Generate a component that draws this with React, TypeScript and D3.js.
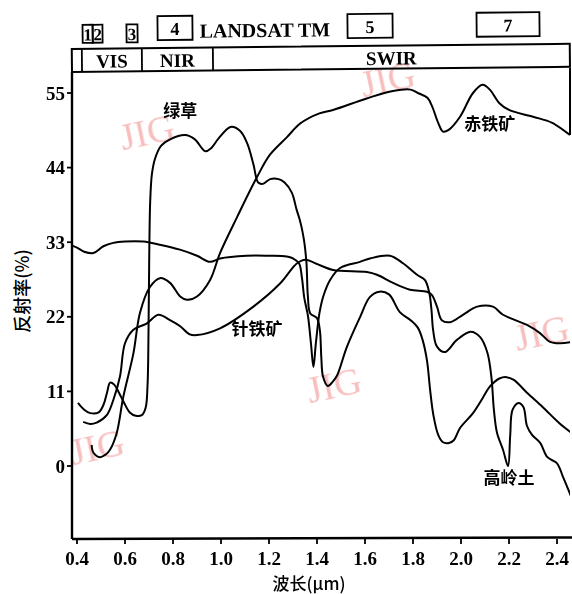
import React from "react";
import * as d3 from "d3";

// ---------- data (wavelength µm, reflectance %) ----------
const grass: [number, number][] = [
  [0.404, 9.3], [0.43, 8.3], [0.455, 7.8], [0.49, 7.9], [0.51, 9.0], [0.525, 10.8], [0.538, 12.3],
  [0.555, 12.0], [0.575, 10.8], [0.595, 9.4], [0.62, 7.9], [0.645, 7.4], [0.67, 7.5], [0.686, 8.6],
  [0.694, 12], [0.698, 20], [0.701, 31], [0.705, 39], [0.712, 43], [0.725, 45.3], [0.75, 47.2],
  [0.79, 48.2], [0.85, 48.8], [0.89, 48.2], [0.935, 46.4], [0.96, 46.9], [0.99, 48.3], [1.04, 50],
  [1.08, 49.4], [1.11, 47.5], [1.135, 44.5], [1.155, 41.8], [1.175, 41.6], [1.205, 42.3], [1.24, 42.3],
  [1.265, 41.8], [1.295, 40.3], [1.315, 37.8], [1.329, 36.2], [1.345, 33.5], [1.356, 30], [1.362, 25],
  [1.372, 22.5], [1.4, 21.8], [1.412, 20], [1.418, 16], [1.425, 13.2], [1.445, 11.8], [1.465, 12.4],
  [1.483, 13.3], [1.525, 17.6], [1.58, 22], [1.62, 24.9], [1.66, 25.7], [1.7, 25.3], [1.745, 22.7],
  [1.79, 21.5], [1.82, 20.4], [1.84, 18.6], [1.858, 15.6], [1.872, 11], [1.885, 7.5], [1.905, 4.6],
  [1.925, 3.5], [1.95, 3.4], [1.97, 3.8], [1.996, 5.6], [2.05, 7.8], [2.09, 10], [2.12, 11.7],
  [2.16, 12.9], [2.19, 13.1], [2.22, 12.7], [2.275, 10.8], [2.34, 8.7], [2.41, 6.3], [2.46, 4.9],
];

const hematite: [number, number][] = [
  [0.461, 3.1], [0.468, 2.0], [0.496, 1.3], [0.52, 1.7], [0.5375, 2.4], [0.565, 4.8], [0.593, 10.2],
  [0.635, 16.6], [0.6625, 22.6], [0.704, 26.4], [0.746, 27.7], [0.7875, 27], [0.83, 25], [0.858, 24.5],
  [0.9, 25], [0.954, 27.4], [0.996, 31.4], [1.067, 36.7], [1.15, 42.6], [1.204, 45.9], [1.275, 48.5],
  [1.33, 50.5], [1.41, 52], [1.467, 52.5], [1.607, 54.2], [1.717, 55.3], [1.79, 55.5], [1.82, 55],
  [1.86, 54.3], [1.88, 53], [1.905, 50.6], [1.925, 49.3], [1.95, 49.6], [1.996, 51.5], [2.05, 55],
  [2.09, 56.2], [2.12, 55.5], [2.16, 53.5], [2.2, 52.5], [2.3, 51.5], [2.38, 50.6], [2.454, 48.8],
];

const goethite: [number, number][] = [
  [0.426, 6.5], [0.455, 6.2], [0.482, 6.4], [0.524, 7.5], [0.551, 9.7], [0.579, 13.2], [0.6, 18.1],
  [0.635, 20.1], [0.69, 21], [0.739, 22.3], [0.7875, 21.5], [0.83, 20.6], [0.87, 19.4], [0.9, 19.3],
  [0.996, 20.3], [1.135, 23.5], [1.246, 26.9], [1.317, 29.9], [1.35, 30.4], [1.4125, 29.6],
  [1.467, 28.9], [1.608, 28.6], [1.65, 28.2], [1.717, 27], [1.7875, 26], [1.858, 25.7], [1.879, 25.2],
  [1.9, 23.5], [1.92, 21.5], [1.954, 21.2], [2.008, 22.3], [2.067, 23.5], [2.133, 23.5], [2.175, 22.3],
  [2.275, 20.8], [2.329, 19.6], [2.371, 18.3], [2.4125, 18.1], [2.4625, 18.3],
];

const kaolinite: [number, number][] = [
  [0.371, 32.6], [0.40, 32.2], [0.43, 31.6], [0.468, 31.4], [0.51, 32.4], [0.551, 32.9], [0.6, 33.1],
  [0.676, 33.1], [0.75, 32.6], [0.829, 31.9], [0.9, 31], [0.954, 30.1], [0.996, 30.6], [1.107, 31],
  [1.2, 31], [1.274, 30.9], [1.3, 30.6], [1.325, 29.9], [1.337, 27.8], [1.347, 24.8], [1.362, 22.2],
  [1.375, 18], [1.385, 14.6], [1.395, 18], [1.41, 22.5], [1.426, 25], [1.454, 27.4], [1.496, 29.2],
  [1.579, 30.1], [1.621, 30.6], [1.704, 31], [1.758, 29.9], [1.817, 28.2], [1.85, 27.4], [1.868, 25.5],
  [1.877, 23], [1.884, 20], [1.9, 17.6], [1.933, 16.8], [1.983, 18.6], [2.04, 19.8], [2.08, 19],
  [2.11, 16.7], [2.127, 13], [2.137, 8.3], [2.15, 4.9], [2.175, 2.4], [2.196, 0], [2.205, 4.5],
  [2.215, 8.3], [2.24, 9.3], [2.26, 8.7], [2.275, 5.9], [2.296, 4.6], [2.33, 3.4], [2.36, 1.3],
  [2.4, 0.4], [2.425, -1.6], [2.46, -4.6],
];

const series = [grass, hematite, goethite, kaolinite];

const seriesLabels = ["绿草", "赤铁矿", "针铁矿", "高岭土"];
const labelAnchors: [number, number][] = [
  [0.83, 51.5], [2.12, 49.5], [1.15, 19.3], [2.2, -2.7],
];

const xTicks = [0.4, 0.6, 0.8, 1.0, 1.2, 1.4, 1.6, 1.8, 2.0, 2.2, 2.4];
const yTicks = [0, 11, 22, 33, 44, 55];

// Landsat TM bands
const tmNames = ["1", "2", "3", "4", "5", "7"];
const tmStart = [0.425, 0.467, 0.608, 0.7375, 1.529, 2.067];
const tmEnd = [0.467, 0.508, 0.654, 0.883, 1.717, 2.329];

// spectral regions (strip)
const regionNames = ["", "VIS", "NIR", "SWIR"];
const regionStart = [0.379, 0.421, 0.671, 0.967];
const regionEnd = [0.421, 0.671, 0.967, 2.454];

const watermark = "JIG";

export default function App() {
  const W = 572, H = 594;
  const left = 72, right = 570, plotTop = 72, bottom = 539;
  const x = d3.scaleLinear().domain([0.4, 2.4]).range([77, 557]);
  const y = d3.scaleLinear().domain([0, 55]).range([466, 93]);

  const line = d3
    .line<[number, number]>()
    .x((d) => x(d[0]))
    .y((d) => y(d[1]))
    .curve(d3.curveCatmullRom.alpha(0.5));

  const serif = "'Liberation Serif', 'DejaVu Serif', serif";
  const cjk = "'Noto Sans CJK SC', sans-serif";

  const stripTop = 49;
  const wm = "#f6b3b3";

  return (
    <svg width={W} height={H} style={{ position: "absolute", left: 0, top: 0, background: "#fff" }}>
      <defs>
        <clipPath id="plotclip">
          <rect x={left + 1} y={plotTop + 1} width={right - left - 1} height={bottom - plotTop - 1} />
        </clipPath>
      </defs>

      {/* watermarks */}
      <g fill={wm} fontFamily={serif} fontSize={38} opacity={0.85}>
        <text x={147} y={145} textAnchor="middle" transform="rotate(-12 147 132)">{watermark}</text>
        <text x={388} y={92} textAnchor="middle" transform="rotate(-12 388 80)">{watermark}</text>
        <text x={97} y={460} textAnchor="middle" transform="rotate(-12 97 447)">{watermark}</text>
        <text x={334} y={398} textAnchor="middle" transform="rotate(-12 334 385)">{watermark}</text>
        <text x={569} y={345} textAnchor="end" transform="rotate(-12 545 332)">{watermark}</text>
      </g>

      {/* header: landsat bands + region strip */}
      <g transform={`rotate(-0.6 ${left} ${plotTop})`}>
        {tmNames.map((n, i) => {
          const small = i < 3;
          const y0 = small ? 25 : 17;
          const y1 = small ? 43 : 41;
          const x0 = x(tmStart[i]);
          const x1 = x(tmEnd[i]);
          return (
            <g key={n}>
              <rect x={x0} y={y0} width={x1 - x0} height={y1 - y0} fill="none" stroke="#000" strokeWidth={1.8} />
              <text
                x={(x0 + x1) / 2}
                y={small ? 40.5 : 36}
                textAnchor="middle"
                fontFamily={serif}
                fontWeight="bold"
                fontSize={small ? 17 : 18}
              >
                {n}
              </text>
            </g>
          );
        })}
        <text x={200} y={39} fontFamily={serif} fontWeight="bold" fontSize={20}>
          LANDSAT TM
        </text>
        <rect x={left} y={stripTop} width={right - left} height={plotTop - stripTop} fill="none" stroke="#000" strokeWidth={2} />
        {regionStart.map((s, i) =>
          i > 0 ? (
            <line key={"d" + i} x1={x(s)} x2={x(s)} y1={stripTop} y2={plotTop} stroke="#000" strokeWidth={1.8} />
          ) : null
        )}
        {regionNames.map((n, i) => (
          <text
            key={"r" + i}
            x={(x(regionStart[i]) + x(regionEnd[i])) / 2}
            y={68}
            textAnchor="middle"
            fontFamily={serif}
            fontWeight="bold"
            fontSize={19}
          >
            {n}
          </text>
        ))}
      </g>

      {/* axes frame */}
      <line x1={left} x2={left} y1={plotTop} y2={bottom} stroke="#000" strokeWidth={2.4} />
      <line x1={left} x2={right + 2} y1={bottom} y2={bottom - 1.5} stroke="#000" strokeWidth={2.4} />
      <line x1={right} x2={right} y1={plotTop - 4} y2={135} stroke="#000" strokeWidth={2} />

      {/* y ticks */}
      {yTicks.map((t) => (
        <g key={"y" + t}>
          <line x1={left - 5} x2={left} y1={y(t)} y2={y(t)} stroke="#000" strokeWidth={1.8} />
          <text
            x={65}
            y={y(t)}
            dy="0.35em"
            textAnchor="end"
            fontFamily={serif}
            fontWeight="bold"
            fontSize={19}
          >
            {t}
          </text>
        </g>
      ))}

      {/* x ticks */}
      {xTicks.map((t) => (
        <g key={"x" + t}>
          <line x1={x(t)} x2={x(t)} y1={bottom} y2={bottom + 5} stroke="#000" strokeWidth={1.8} />
          <text
            x={x(t)}
            y={565}
            textAnchor="middle"
            fontFamily={serif}
            fontWeight="bold"
            fontSize={19}
          >
            {t.toFixed(1)}
          </text>
        </g>
      ))}

      {/* axis titles */}
      <text x={309} y={590} textAnchor="middle" fontFamily={cjk} fontSize={17} fontWeight={500}>
        波长(μm)
      </text>
      <text
        x={0}
        y={0}
        transform="translate(29 291) rotate(-90)"
        textAnchor="middle"
        fontFamily={cjk}
        fontSize={18}
        fontWeight={500}
      >
        反射率(%)
      </text>

      {/* curves */}
      <g clipPath="url(#plotclip)">
        {series.map((s, i) => (
          <path key={"s" + i} d={line(s) || ""} fill="none" stroke="#000" strokeWidth={2} strokeLinejoin="round" />
        ))}
      </g>

      {/* curve labels */}
      {seriesLabels.map((l, i) => (
        <text
          key={"l" + i}
          x={x(labelAnchors[i][0])}
          y={y(labelAnchors[i][1])}
          textAnchor="middle"
          fontFamily={cjk}
          fontSize={17}
          fontWeight={700}
        >
          {l}
        </text>
      ))}
    </svg>
  );
}
